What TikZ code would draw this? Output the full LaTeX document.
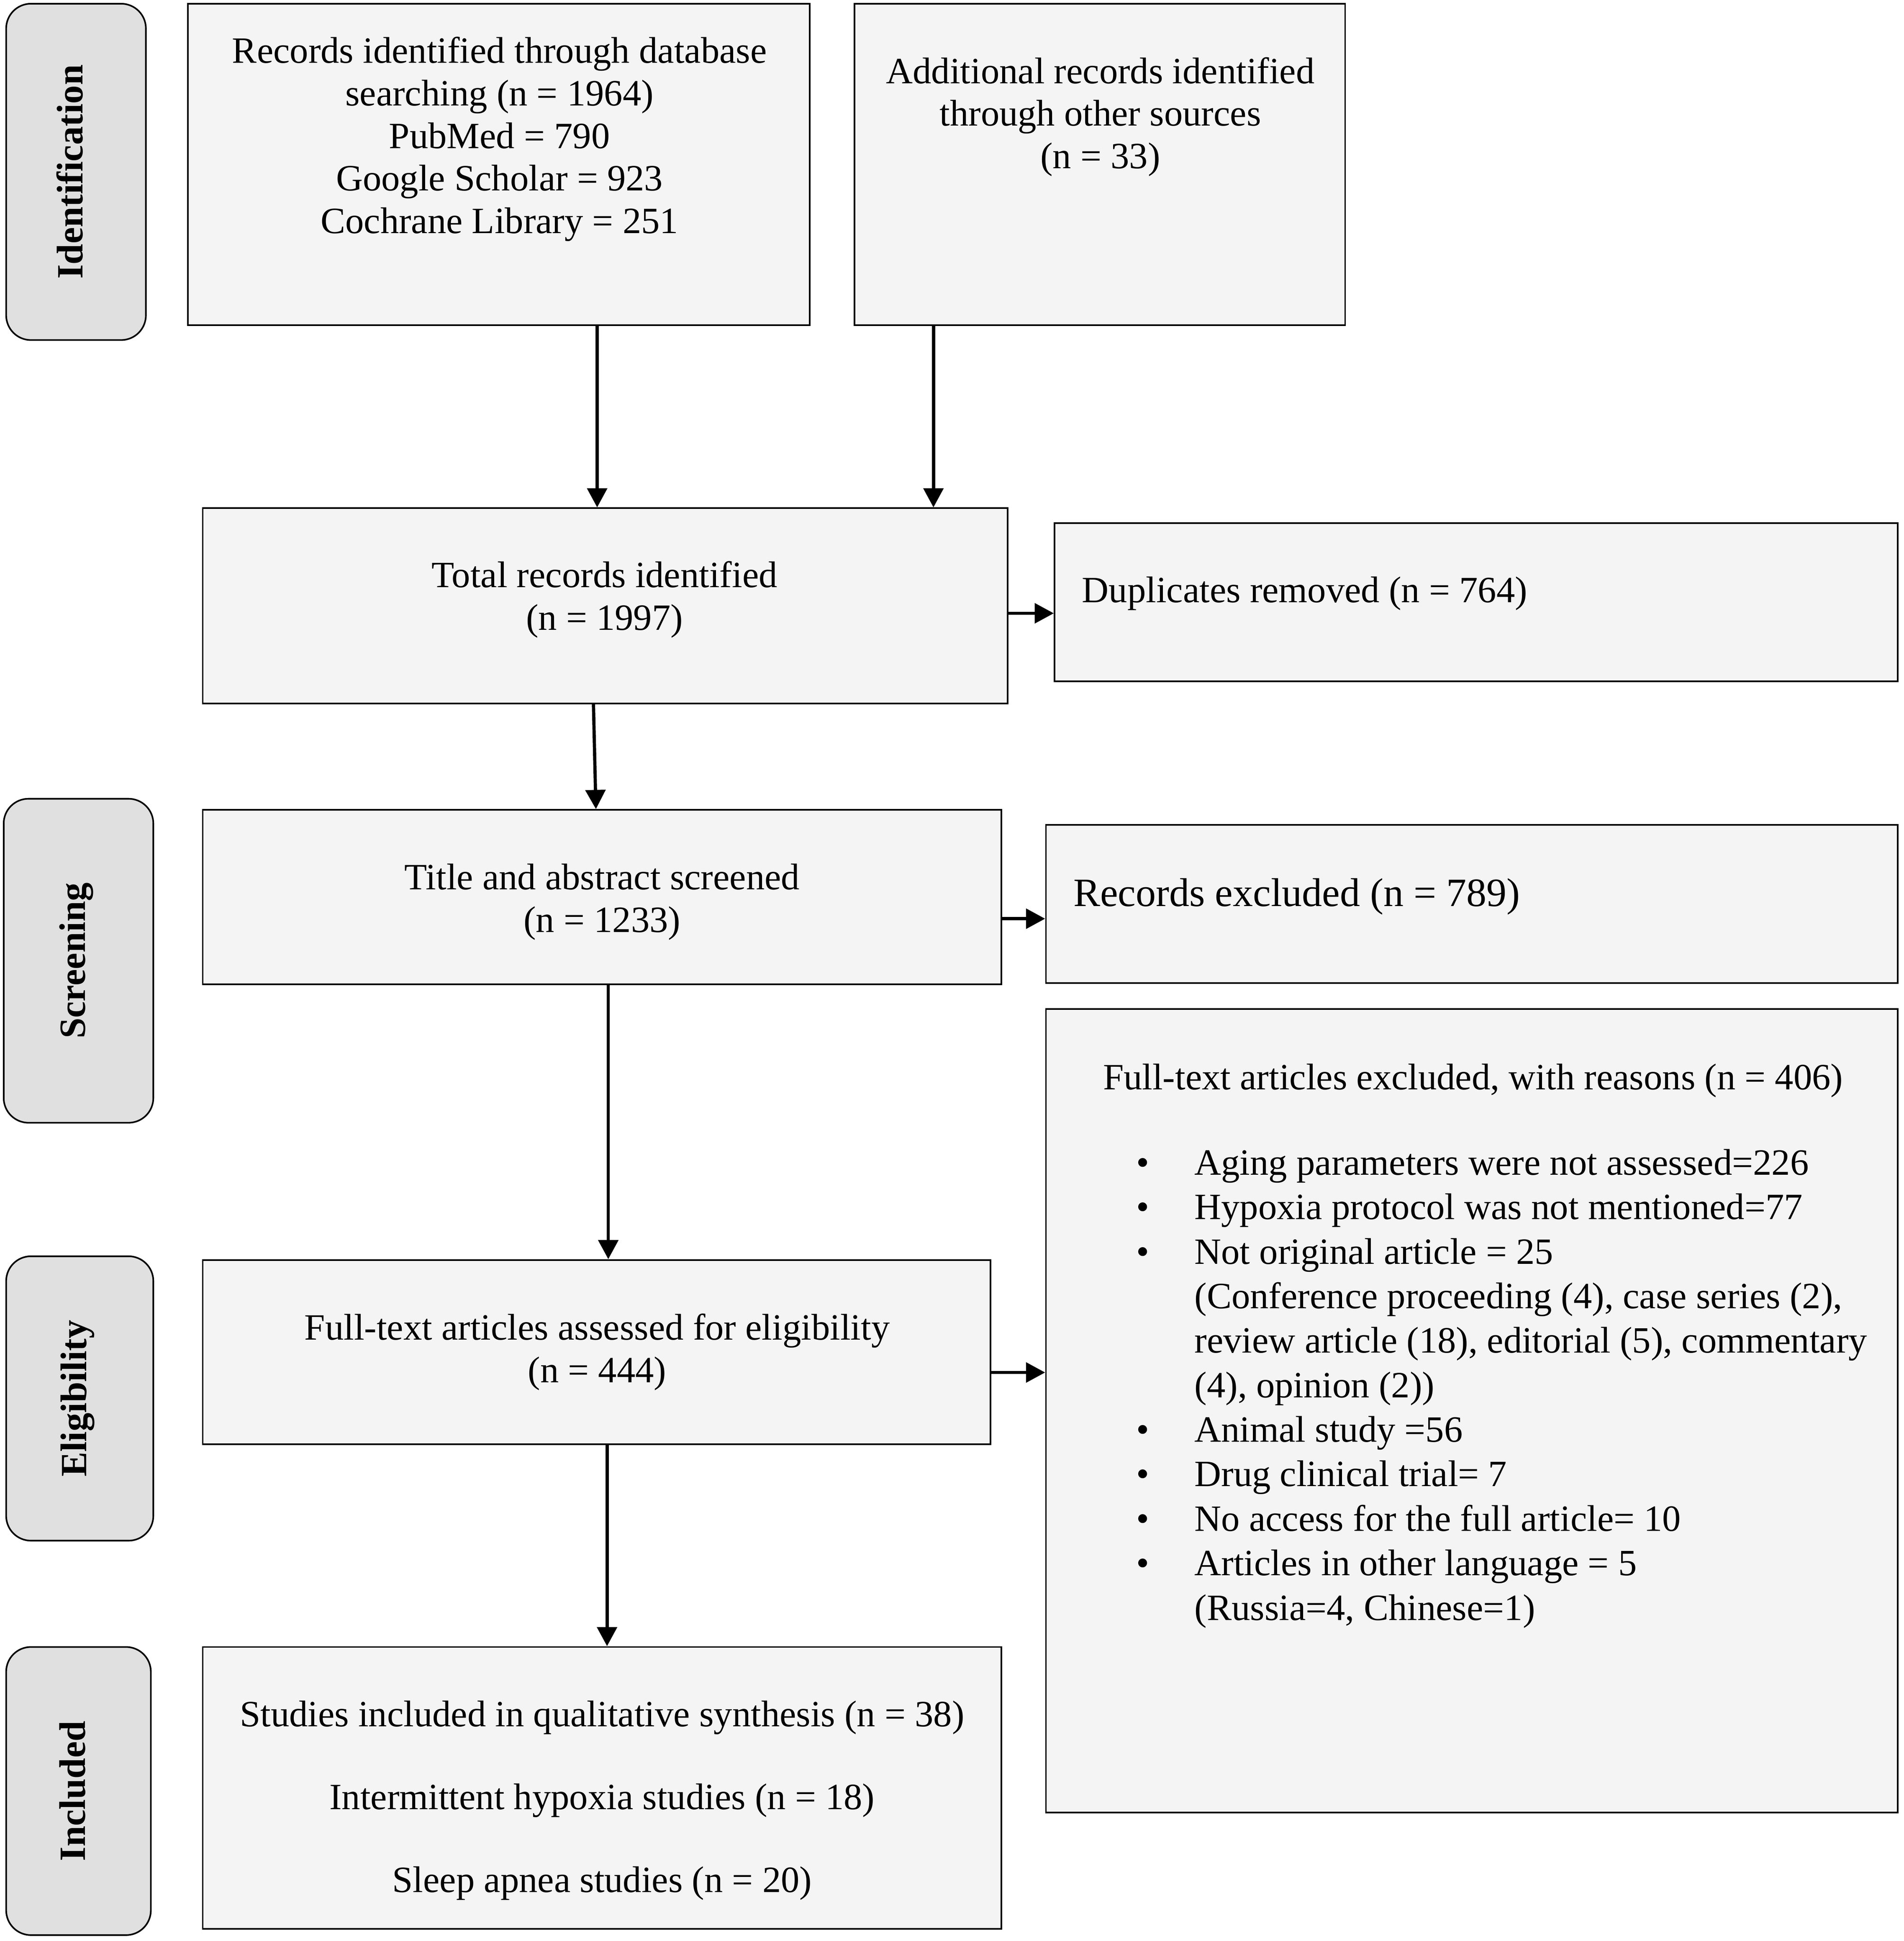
\documentclass[tikz,border=0pt]{standalone}
\usepackage{fontspec}
\setmainfont{Liberation Serif}
\usetikzlibrary{arrows.meta}
\definecolor{boxfill}{HTML}{F4F4F4}
\definecolor{sidefill}{HTML}{E0E0E0}
\begin{document}
\begin{tikzpicture}[x=1pt,y=-1pt,
  box/.style={draw, line width=1.3pt, fill=boxfill, inner sep=0pt},
  side/.style={draw, line width=1.3pt, fill=sidefill, rounded corners=20pt, rotate=90, inner sep=0pt, text height=21pt, text depth=10pt, font=\fontsize{30}{34.5}\selectfont\bfseries},
  txt/.style={align=center, inner sep=0pt, font=\fontsize{30}{34.5}\selectfont},
  arr/.style={line width=2.6pt, -{Triangle[length=15.5pt,width=16pt]}}]
\useasboundingbox (0,0) rectangle (1540,1569.8);

% side labels
\node[side, minimum width=272pt, minimum height=113pt] (SI) at (61.5,139) {Identification};
\node[side, minimum width=262pt, minimum height=121pt] (SS) at (63.5,777) {Screening};
\node[side, minimum width=230pt, minimum height=119pt] (SE) at (64.5,1131) {Eligibility};
\node[side, minimum width=233pt, minimum height=117pt] (SN) at (63.5,1448.5) {Included};

% main boxes
\node[box, minimum width=503pt, minimum height=260pt] (A) at (403.5,133) {};
\node[txt] (At) at (404,112.5) {Records identified through database\\searching (n = 1964)\\PubMed = 790\\Google Scholar = 923\\Cochrane Library = 251};

\node[box, minimum width=397pt, minimum height=260pt] (B) at (889.5,133) {};
\node[txt] (Bt) at (890,94.5) {Additional records identified\\through other sources\\(n = 33)};

\node[box, minimum width=651pt, minimum height=158pt] (C) at (489.5,490) {};
\node[txt] (Ct) at (489,485) {Total records identified\\(n = 1997)};

\node[box, minimum width=682pt, minimum height=128pt] (D) at (1194,487) {};
\node[txt, anchor=west] (Dt) at (875,480) {Duplicates removed (n = 764)};

\node[box, minimum width=646pt, minimum height=141pt] (E) at (487,725.5) {};
\node[txt] (Et) at (487,729.5) {Title and abstract screened\\(n = 1233)};

\node[box, minimum width=689pt, minimum height=128pt] (F) at (1190.5,731) {};
\node[txt, anchor=west, font=\fontsize{32.5}{37}\selectfont] (Ft) at (868,725) {Records excluded (n = 789)};

\node[box, minimum width=689pt, minimum height=650pt] (G) at (1190.5,1141) {};
\node[txt, anchor=west] (Gh) at (892,874) {Full-text articles excluded, with reasons (n = 406)};
\node[txt, anchor=west, align=left, font=\fontsize{30}{36}\selectfont] (Gl) at (919,1123) {%
\begin{tabular}{@{}p{47pt}@{}l@{}}
\textbullet & Aging parameters were not assessed=226\\
\textbullet & Hypoxia protocol was not mentioned=77\\
\textbullet & Not original article = 25\\
 & (Conference proceeding (4), case series (2),\\
 & review article (18), editorial (5), commentary\\
 & (4), opinion (2))\\
\textbullet & Animal study =56\\
\textbullet & Drug clinical trial= 7\\
\textbullet & No access for the full article= 10\\
\textbullet & Articles in other language = 5\\
 & (Russia=4, Chinese=1)
\end{tabular}};

\node[box, minimum width=637pt, minimum height=149pt] (H) at (482.5,1093.5) {};
\node[txt] (Ht) at (483,1093.5) {Full-text articles assessed for eligibility\\(n = 444)};

\node[box, minimum width=646pt, minimum height=228pt] (I) at (487,1446) {};
\node[txt, font=\fontsize{30}{33.5}\selectfont] (It) at (487,1456) {Studies included in qualitative synthesis (n = 38)\\[33.5pt]Intermittent hypoxia studies (n = 18)\\[33.5pt]Sleep apnea studies (n = 20)};

% connector positions
\coordinate (xa) at (483,0);
\coordinate (xb) at (755,0);
\coordinate (xc1) at (480,0);
\coordinate (xc2) at (482,0);
\coordinate (xe) at (492,0);
\coordinate (xh) at (491,0);
\coordinate (yd) at (0,496);
\coordinate (yf) at (0,743);
\coordinate (yg) at (0,1110);

\draw[arr] (A.south -| xa) -- (C.north -| xa);
\draw[arr] (B.south -| xb) -- (C.north -| xb);
\draw[arr] (C.east |- yd) -- (D.west |- yd);
\draw[arr] (C.south -| xc1) -- (E.north -| xc2);
\draw[arr] (E.east |- yf) -- (F.west |- yf);
\draw[arr] (E.south -| xe) -- (H.north -| xe);
\draw[arr] (H.east |- yg) -- (G.west |- yg);
\draw[arr] (H.south -| xh) -- (I.north -| xh);
\end{tikzpicture}
\end{document}
